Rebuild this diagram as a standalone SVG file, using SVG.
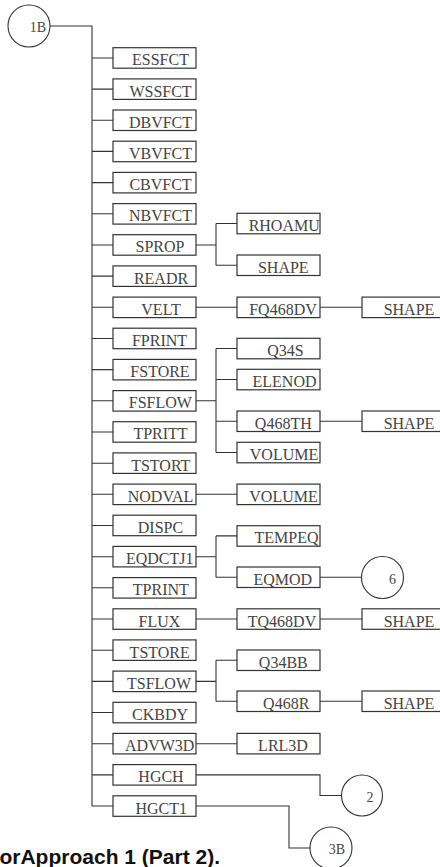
<svg xmlns="http://www.w3.org/2000/svg" width="440" height="867" viewBox="0 0 440 867">
<style>
rect.b{fill:#fff;stroke:#333;stroke-width:1.2}
circle.c{fill:#fff;stroke:#333;stroke-width:1.1}
text.t{font-family:"Liberation Serif","Times New Roman",serif;font-size:16px;fill:#444;text-anchor:middle}
text.ct{font-family:"Liberation Serif","Times New Roman",serif;font-size:14px;fill:#444;text-anchor:middle}
#connectors path{fill:none;stroke:#333;stroke-width:1.1}
text.cap{font-family:"Liberation Sans",Arial,sans-serif;font-weight:bold;font-size:21px;fill:#111;text-anchor:end}
</style>
<rect width="440" height="867" fill="#fff"/>
<g id="connectors">
<path d="M50,26H92V806"/>
<path d="M92,58H113M92,89.1H113M92,120.3H113M92,151.4H113M92,182.6H113M92,213.8H113M92,245H113M92,276.1H113M92,307.3H113M92,338.5H113M92,369.6H113M92,400.8H113M92,432H113M92,463.2H113M92,494.3H113M92,525.5H113M92,556.7H113M92,587.8H113M92,619H113M92,650.2H113M92,681.4H113M92,712.5H113M92,743.7H113M92,774.9H113M92,806H113"/>
<path d="M196,245H216M216,223.5V265.2M216,223.5H237M216,265.2H237"/>
<path d="M196,307.3H237M320,307.3H362"/>
<path d="M196,400.8H216M216,348.5V452.5M216,348.5H237M216,379.5H237M216,421.2H237M216,452.5H237M320,421.2H362"/>
<path d="M196,494.3H237"/>
<path d="M196,556.7H216M216,535.9V577.2M216,535.9H237M216,577.2H237M320,577.2H361.5"/>
<path d="M196,619H237M320,619H362"/>
<path d="M196,681.4H216M216,660.2V701.2M216,660.2H237M216,701.2H237M320,701.2H362"/>
<path d="M196,743.7H237"/>
<path d="M196,774.9H320V795.5H341.5"/>
<path d="M196,806H289V848H310"/>
</g>
<g id="n1B"><circle class="c" cx="29" cy="26" r="21"/><text class="ct" x="38" y="32">1B</text></g>
<g id="ESSFCT"><rect class="b" x="113" y="47.7" width="83" height="20.5"/><text class="t" x="160.5" y="65.4">ESSFCT</text></g>
<g id="WSSFCT"><rect class="b" x="113" y="78.9" width="83" height="20.5"/><text class="t" x="160.5" y="96.6">WSSFCT</text></g>
<g id="DBVFCT"><rect class="b" x="113" y="110" width="83" height="20.5"/><text class="t" x="160.5" y="127.7">DBVFCT</text></g>
<g id="VBVFCT"><rect class="b" x="113" y="141.2" width="83" height="20.5"/><text class="t" x="160.5" y="158.9">VBVFCT</text></g>
<g id="CBVFCT"><rect class="b" x="113" y="172.4" width="83" height="20.5"/><text class="t" x="160.5" y="190.1">CBVFCT</text></g>
<g id="NBVFCT"><rect class="b" x="113" y="203.6" width="83" height="20.5"/><text class="t" x="160.5" y="221.3">NBVFCT</text></g>
<g id="SPROP"><rect class="b" x="113" y="234.7" width="83" height="20.5"/><text class="t" x="160" y="252.4">SPROP</text></g>
<g id="READR"><rect class="b" x="113" y="265.9" width="83" height="20.5"/><text class="t" x="161" y="283.6">READR</text></g>
<g id="VELT"><rect class="b" x="113" y="297.1" width="83" height="20.5"/><text class="t" x="161" y="314.8">VELT</text></g>
<g id="FPRINT"><rect class="b" x="113" y="328.2" width="83" height="20.5"/><text class="t" x="159.5" y="345.9">FPRINT</text></g>
<g id="FSTORE"><rect class="b" x="113" y="359.4" width="83" height="20.5"/><text class="t" x="160" y="377.1">FSTORE</text></g>
<g id="FSFLOW"><rect class="b" x="113" y="390.6" width="83" height="20.5"/><text class="t" x="160.3" y="408.3">FSFLOW</text></g>
<g id="TPRITT"><rect class="b" x="113" y="421.7" width="83" height="20.5"/><text class="t" x="160.5" y="439.4">TPRITT</text></g>
<g id="TSTORT"><rect class="b" x="113" y="452.9" width="83" height="20.5"/><text class="t" x="160.8" y="470.6">TSTORT</text></g>
<g id="NODVAL"><rect class="b" x="113" y="484.1" width="83" height="20.5"/><text class="t" x="160.5" y="501.8">NODVAL</text></g>
<g id="DISPC"><rect class="b" x="113" y="515.2" width="83" height="20.5"/><text class="t" x="160.5" y="532.9">DISPC</text></g>
<g id="EQDCTJ1"><rect class="b" x="113" y="546.4" width="83" height="20.5"/><text class="t" x="159.7" y="564.1">EQDCTJ1</text></g>
<g id="TPRINT"><rect class="b" x="113" y="577.6" width="83" height="20.5"/><text class="t" x="160.8" y="595.3">TPRINT</text></g>
<g id="FLUX"><rect class="b" x="113" y="608.8" width="83" height="20.5"/><text class="t" x="159.5" y="626.5">FLUX</text></g>
<g id="TSTORE"><rect class="b" x="113" y="639.9" width="83" height="20.5"/><text class="t" x="159.7" y="657.6">TSTORE</text></g>
<g id="TSFLOW"><rect class="b" x="113" y="671.1" width="83" height="20.5"/><text class="t" x="159" y="688.8">TSFLOW</text></g>
<g id="CKBDY"><rect class="b" x="113" y="702.3" width="83" height="20.5"/><text class="t" x="160" y="720">CKBDY</text></g>
<g id="ADVW3D"><rect class="b" x="113" y="733.4" width="83" height="20.5"/><text class="t" x="159.7" y="751.1">ADVW3D</text></g>
<g id="HGCH"><rect class="b" x="113" y="764.6" width="83" height="20.5"/><text class="t" x="161" y="782.3">HGCH</text></g>
<g id="HGCT1"><rect class="b" x="113" y="795.8" width="83" height="20.5"/><text class="t" x="161.2" y="813.5">HGCT1</text></g>
<g id="RHOAMU"><rect class="b" x="237" y="213.3" width="83" height="20.5"/><text class="t" x="284.2" y="231">RHOAMU</text></g>
<g id="SHAPE1"><rect class="b" x="237" y="255" width="83" height="20.5"/><text class="t" x="283.3" y="272.7">SHAPE</text></g>
<g id="FQ468DV"><rect class="b" x="237" y="297.1" width="83" height="20.5"/><text class="t" x="283" y="314.8">FQ468DV</text></g>
<g id="SHAPE2"><rect class="b" x="362" y="297.1" width="83" height="20.5"/><text class="t" x="409" y="314.8">SHAPE</text></g>
<g id="Q34S"><rect class="b" x="237" y="338.3" width="83" height="20.5"/><text class="t" x="285.5" y="356">Q34S</text></g>
<g id="ELENOD"><rect class="b" x="237" y="369.3" width="83" height="20.5"/><text class="t" x="284.5" y="387">ELENOD</text></g>
<g id="Q468TH"><rect class="b" x="237" y="411" width="83" height="20.5"/><text class="t" x="283.3" y="428.7">Q468TH</text></g>
<g id="SHAPE3"><rect class="b" x="362" y="411" width="83" height="20.5"/><text class="t" x="409" y="428.7">SHAPE</text></g>
<g id="VOLUME1"><rect class="b" x="237" y="442.3" width="83" height="20.5"/><text class="t" x="284" y="460">VOLUME</text></g>
<g id="VOLUME2"><rect class="b" x="237" y="484.1" width="83" height="20.5"/><text class="t" x="283.5" y="501.8">VOLUME</text></g>
<g id="TEMPEQ"><rect class="b" x="237" y="525.7" width="83" height="20.5"/><text class="t" x="286.5" y="543.4">TEMPEQ</text></g>
<g id="EQMOD"><rect class="b" x="237" y="567" width="83" height="20.5"/><text class="t" x="282.8" y="584.7">EQMOD</text></g>
<g id="n6"><circle class="c" cx="382.5" cy="577.5" r="21"/><text class="ct" x="392.5" y="584">6</text></g>
<g id="TQ468DV"><rect class="b" x="237" y="608.8" width="83" height="20.5"/><text class="t" x="282" y="626.5">TQ468DV</text></g>
<g id="SHAPE4"><rect class="b" x="362" y="608.8" width="83" height="20.5"/><text class="t" x="409" y="626.5">SHAPE</text></g>
<g id="Q34BB"><rect class="b" x="237" y="650" width="83" height="20.5"/><text class="t" x="283.3" y="667.7">Q34BB</text></g>
<g id="Q468R"><rect class="b" x="237" y="691" width="83" height="20.5"/><text class="t" x="286.2" y="708.7">Q468R</text></g>
<g id="SHAPE5"><rect class="b" x="362" y="691" width="83" height="20.5"/><text class="t" x="409" y="708.7">SHAPE</text></g>
<g id="LRL3D"><rect class="b" x="237" y="733.4" width="83" height="20.5"/><text class="t" x="283" y="751.1">LRL3D</text></g>
<g id="n2"><circle class="c" cx="362" cy="795.5" r="20.5"/><text class="ct" x="370" y="801.5">2</text></g>
<g id="n3B"><circle class="c" cx="331" cy="848" r="21"/><text class="ct" x="337" y="854">3B</text></g>
<text class="cap" x="220" y="864">orApproach 1 (Part 2).</text>
</svg>
